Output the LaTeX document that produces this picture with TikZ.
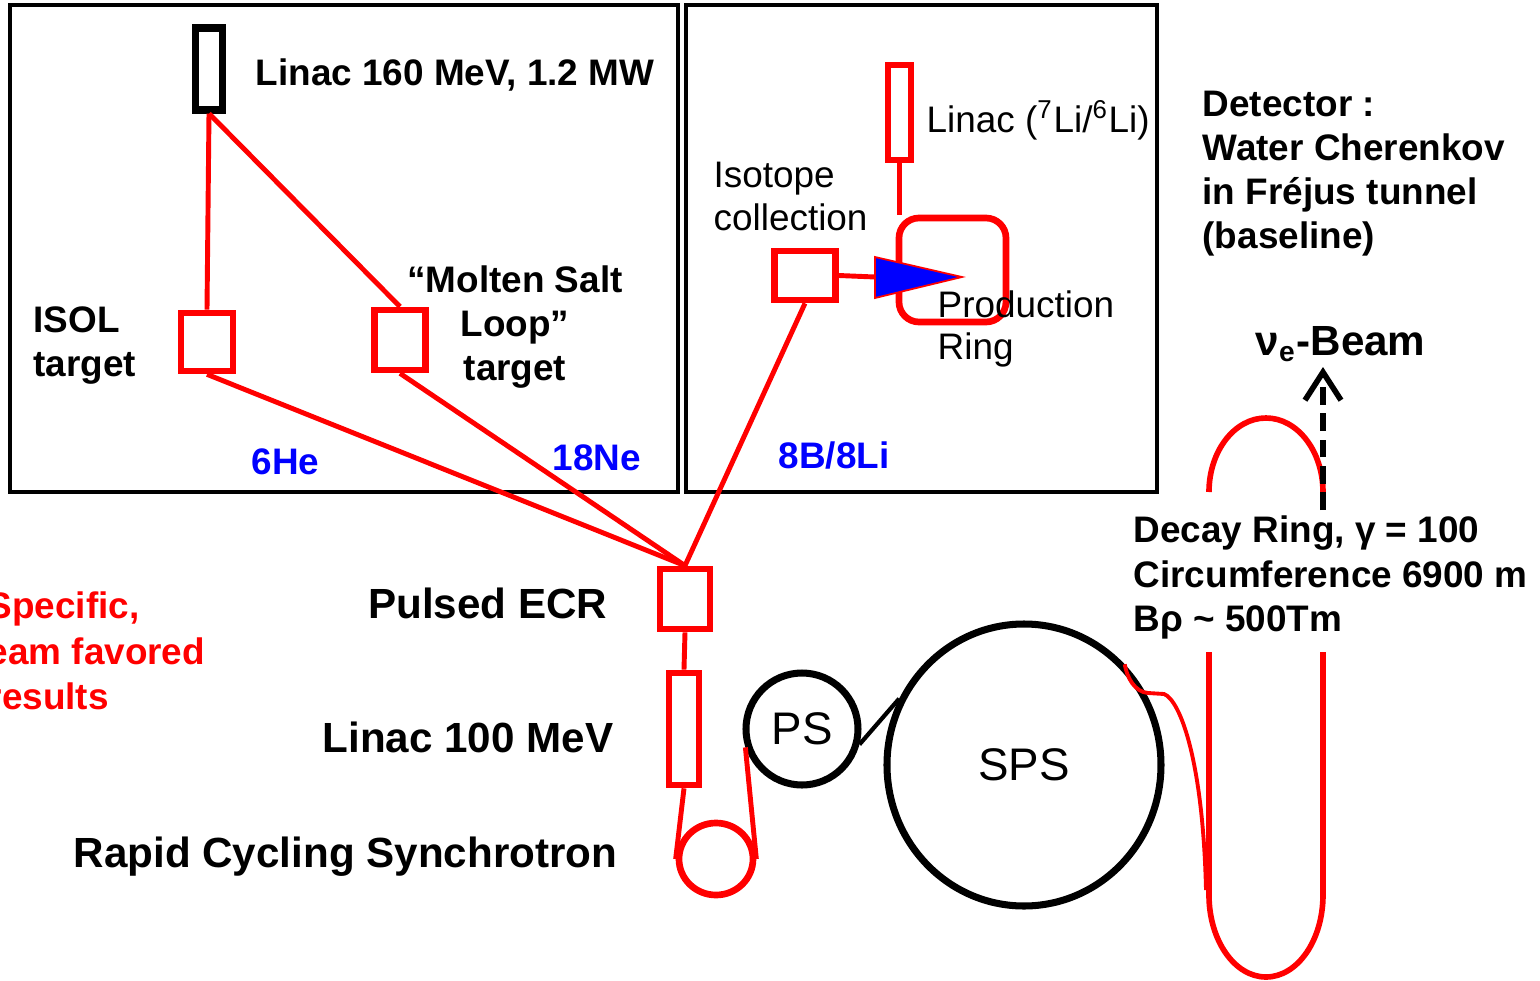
\documentclass[tikz,border=0pt]{standalone}
\usepackage{fontspec}
\setmainfont{Liberation Sans}
\usepackage{tikz}
\usetikzlibrary{shapes.geometric,arrows.meta,calc,positioning}

\tikzset{
    redbox/.style={draw=red, line width=1.9pt, inner sep=0pt},
    beamline/.style={red, line width=1.4pt},
    ringnode/.style={draw, line width=2pt, inner sep=0pt, font=\fontsize{13}{15}\selectfont},
    boldtxt/.style={font=\fontsize{10.5}{12.6}\selectfont\bfseries, inner sep=0pt},
    bigtxt/.style={font=\fontsize{12}{14.4}\selectfont\bfseries, inner sep=0pt},
    normtxt/.style={font=\fontsize{10.5}{12.2}\selectfont, inner sep=0pt},
    redtxt/.style={font=\fontsize{10.5}{12.9}\selectfont\bfseries, inner sep=0pt, text=red}
}

\begin{document}
\begin{tikzpicture}[scale=1]
    \useasboundingbox (0,0) rectangle (15.4,9.8);

    % Kotak luar
    \draw[line width=1.3pt] (0.10,9.75) rectangle (6.78,4.88);
    \draw[line width=1.3pt] (6.86,9.75) rectangle (11.57,4.88);

    % Linac 160 MeV dan target
    \node (linacA) at (2.09,9.11) [draw, line width=2pt, inner sep=0pt, minimum width=0.27cm, minimum height=0.82cm] {};
    \node at (2.55,8.95) [boldtxt, anchor=base west] {Linac 160 MeV, 1.2 MW};
    \node (isol) at (2.07,6.38) [redbox, minimum width=0.52cm, minimum height=0.58cm] {};
    \node (msl) at (4.00,6.40) [redbox, minimum width=0.51cm, minimum height=0.60cm] {};
    \draw[beamline] (linacA.south) -- (isol.north);
    \draw[beamline] (linacA.south) -- (msl.north);
    \node at (0.33,6.344) [boldtxt, anchor=west, align=left] {ISOL\\target};
    \node at (5.15,6.53) [boldtxt, align=center] {“Molten Salt\\Loop”\\target};
    \node at (2.51,5.06) [boldtxt, text=blue, anchor=base west] {6He};
    \node at (5.52,5.10) [boldtxt, text=blue, anchor=base west] {18Ne};

    % Production ring
    \node (linacLi) at (8.995,8.675) [redbox, minimum width=0.23cm, minimum height=0.95cm] {};
    \node (prodring) at (9.525,7.10) [redbox, rounded corners=0.2cm, minimum width=1.07cm, minimum height=1.04cm] {};
    \node (isocoll) at (8.05,7.045) [redbox, minimum width=0.61cm, minimum height=0.49cm] {};
    \coordinate (tri) at (8.75,7.03);
    \draw[beamline] (linacLi.south) -- (linacLi.south |- prodring.north);
    \draw[beamline] (isocoll.east) -- (tri);
    \draw[red, fill=blue, line width=0.5pt] (8.75,7.23) -- (9.62,7.03) -- (8.75,6.82) -- cycle;
    \node at (9.26,8.48) [normtxt, anchor=base west] {Linac (\textsuperscript{7}Li/\textsuperscript{6}Li)};
    \node at (7.13,7.832) [normtxt, anchor=west, align=left] {Isotope\\collection};
    \node at (9.37,6.51) [normtxt, anchor=west, align=left] {Production\\Ring};
    \node at (7.78,5.12) [boldtxt, text=blue, anchor=base west] {8B/8Li};

    % ECR, Linac 100 MeV, RCS, PS, SPS
    \node (ecr) at (6.85,3.81) [redbox, minimum width=0.50cm, minimum height=0.60cm] {};
    \draw[beamline] (isol.south) -- (ecr.north);
    \draw[beamline] (msl.south) -- (ecr.north);
    \draw[beamline] (isocoll.south) -- (ecr.north);
    \node (linacB) at (6.84,2.51) [redbox, minimum width=0.30cm, minimum height=1.12cm] {};
    \draw[beamline] (ecr.south) -- (linacB.north);
    \node (rcs) at (7.16,1.21) [ellipse, redbox, minimum width=0.74cm, minimum height=0.72cm] {};
    \draw[beamline] (linacB.south) -- (rcs.west);
    \node (ps) at (8.02,2.51) [circle, ringnode, minimum size=1.12cm] {PS};
    \draw[beamline] (rcs.east) -- (ps.198);
    \node (sps) at (10.24,2.15) [ellipse, ringnode, minimum width=2.74cm, minimum height=2.82cm] {SPS};
    \draw[line width=1.2pt] (ps.-15) -- (sps.152);
    \node at (6.08,3.62) [bigtxt, anchor=base east] {Pulsed ECR};
    \node at (6.14,2.28) [bigtxt, anchor=base east] {Linac 100 MeV};
    \node at (6.18,1.13) [bigtxt, anchor=base east] {Rapid Cycling Synchrotron};
    \node at (-0.13,3.29) [redtxt, anchor=west, align=left] {Specific,\\eam favored\\results};

    % Decay ring
    \draw[red, line width=1.6pt] (12.09,4.88) arc[start angle=180, end angle=0, x radius=0.57cm, y radius=0.74cm];
    \draw[red, line width=1.6pt] (12.09,3.28) -- (12.09,0.85) arc[start angle=180, end angle=360, x radius=0.57cm, y radius=0.82cm] -- (13.23,3.28);
    \draw[red, line width=1.1pt] (sps.45) .. controls (11.27,3.02) and (11.35,2.88) .. (11.48,2.87) -- (11.64,2.86) .. controls (11.80,2.80) and (12.03,2.20) .. (12.06,0.90);

    % Berkas neutrino
    \coordinate (beamfoot) at (13.23,4.70);
    \coordinate (beamtip) at (13.23,6.13);
    \draw[dash pattern=on 5pt off 2.5pt, line width=1.6pt, -{Straight Barb[length=2.8mm, width=3.6mm]}] (beamfoot) -- (beamtip);
    \node at (12.55,6.25) [bigtxt, anchor=base west] {ν\textsubscript{e}-Beam};

    % Detektor dan decay ring
    \node at (12.02,8.064) [boldtxt, anchor=west, align=left] {Detector :\\Water Cherenkov\\in Fréjus tunnel\\(baseline)};
    \node at (11.33,4.024) [boldtxt, anchor=west, align=left] {Decay Ring, γ = 100\\Circumference 6900 m\\Bρ \textasciitilde{} 500Tm};
\end{tikzpicture}
\end{document}
